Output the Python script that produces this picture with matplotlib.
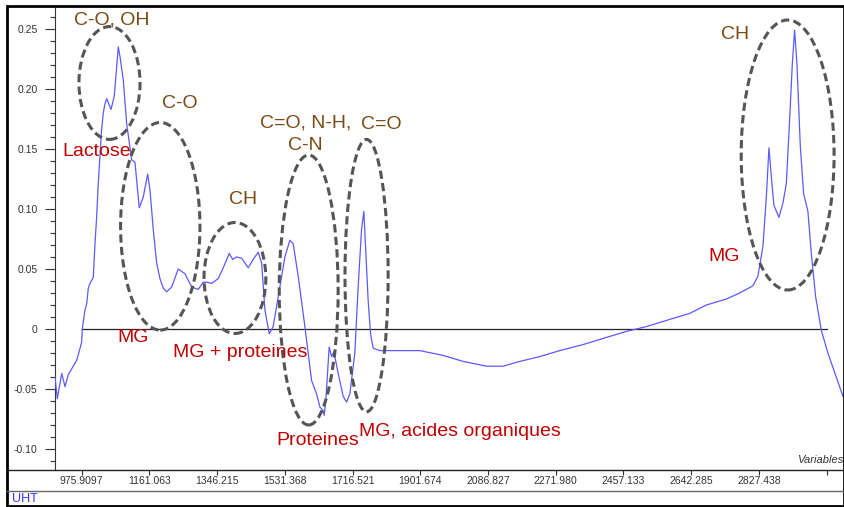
import matplotlib.pyplot as plt
from matplotlib.patches import Ellipse, Rectangle
from matplotlib.lines import Line2D
from matplotlib.ticker import MultipleLocator

# spectrum (wavenumber, absorbance)
wavenumber = [902.9, 909.2, 921.3, 930.3, 939.3, 962.3, 975.9, 977.5, 984.9, 989.6,
              993.9, 998.6, 1007.6, 1012.0, 1016.9, 1021.0, 1025.9, 1030.0, 1034.9, 1039.0,
              1044.2, 1056.0, 1065.0, 1075.9, 1080.6, 1089.6, 1098.9,
              1112.5, 1121.5, 1133.3, 1144.2, 1156.2, 1162.5, 1171.5, 1180.8, 1189.9, 1198.9,
              1208.2, 1221.8, 1239.9,
              1258.2, 1276.5, 1294.5, 1308.2, 1317.5, 1331.1, 1349.2, 1362.8, 1379.2, 1388.5,
              1399.4, 1413.1, 1431.1, 1444.8, 1458.5, 1467.8, 1476.8, 1488.5, 1499.4, 1513.1,
              1531.4, 1545.1, 1554.1, 1567.8, 1586.1, 1604.4, 1618.0, 1627.1, 1636.1, 1638.8,
              1643.4, 1652.5, 1659.0, 1665.3, 1677.1, 1690.7, 1700.0, 1709.0, 1722.7, 1731.7,
              1741.0, 1747.3, 1759.0, 1765.6, 1772.7, 1791.0, 1818.3, 1845.7, 1900.3, 1964.0,
              2018.6, 2082.6, 2128.0, 2173.6, 2228.2, 2282.9, 2346.5, 2410.5, 2465.1, 2519.8,
              2583.4, 2638.1, 2683.7, 2738.4, 2774.7, 2811.0, 2824.7, 2838.4, 2847.7, 2854.8,
              2861.3, 2868.4, 2882.1, 2893.0, 2902.3, 2911.3, 2918.7, 2925.0, 2931.3, 2940.6,
              2949.6, 2961.3, 2970.6, 2982.4, 2997.9, 3016.0, 3038.9, 3057.0]
absorbance = [-0.040, -0.058, -0.037, -0.048, -0.038, -0.026, -0.011, 0.000, 0.016, 0.021,
              0.034, 0.038, 0.043, 0.070, 0.094, 0.120, 0.144, 0.165, 0.180, 0.187,
              0.192, 0.183, 0.194, 0.235, 0.227, 0.2075, 0.171,
              0.141, 0.139, 0.101, 0.110, 0.129, 0.116, 0.083, 0.055, 0.042, 0.034,
              0.031, 0.035, 0.050,
              0.046, 0.035, 0.033, 0.039, 0.039, 0.038, 0.042, 0.051, 0.063, 0.058,
              0.060, 0.059, 0.051, 0.058, 0.064, 0.055, 0.016, -0.004, 0.002, 0.027,
              0.060, 0.074, 0.071, 0.044, 0.002, -0.043, -0.054, -0.065, -0.068, -0.072,
              -0.059, -0.015, -0.023, -0.019, -0.037, -0.056, -0.061, -0.054, -0.020, 0.035,
              0.083, 0.098, 0.024, -0.004, -0.016, -0.018, -0.018, -0.018, -0.018, -0.022,
              -0.027, -0.031, -0.031, -0.027, -0.023, -0.018, -0.013, -0.007, -0.002, 0.002,
              0.008, 0.013, 0.020, 0.025, 0.030, 0.036, 0.044, 0.069, 0.110, 0.151,
              0.127, 0.103, 0.093, 0.105, 0.121, 0.174, 0.221, 0.249, 0.221, 0.152,
              0.113, 0.098, 0.063, 0.027, -0.001, -0.020, -0.040, -0.056]

x_ticks = [975.9097, 1161.063, 1346.215, 1531.368, 1716.521, 1901.674, 2086.827,
           2271.980, 2457.133, 2642.285, 2827.438, 3012.590]
x_tick_labels = ["975.9097", "1161.063", "1346.215", "1531.368", "1716.521", "1901.674",
                 "2086.827", "2271.980", "2457.133", "2642.285", "2827.438", ""]
y_ticks = [-0.10, -0.05, 0.0, 0.05, 0.10, 0.15, 0.20, 0.25]
y_tick_labels = ["-0.10", "-0.05", "0", "0.05", "0.10", "0.15", "0.20", "0.25"]

# dashed ellipses: (centre x, centre y, width, height)
ellipses = [(1051.9, 0.205, 167, 0.094),
            (1190.7, 0.0856, 217, 0.173),
            (1394.8, 0.0425, 169, 0.0925),
            (1596.5, 0.0325, 161, 0.225),
            (1754.7, 0.0445, 118, 0.227),
            (2905.9, 0.145, 254, 0.225)]

# bond labels (brown) and compound labels (red)
bond_labels = [("C-O, OH", 1058.7, 0.2575), ("C-O", 1244.5, 0.1875), ("CH", 1416.7, 0.1075),
               ("C=O, N-H,", 1588.8, 0.1717), ("C-N", 1587.4, 0.1525),
               ("C=O", 1793.7, 0.1708), ("CH", 2761.0, 0.2458)]
compound_labels = [("Lactose", 1016.3, 0.1475), ("MG", 1116.1, -0.0067),
                   ("MG + proteines", 1408.5, -0.0192), ("Proteines", 1620.2, -0.0933),
                   ("MG, acides organiques", 2009.6, -0.085), ("MG", 2732.4, 0.0608)]

W, H = 845, 507
plt.rcParams["font.family"] = ["Liberation Sans", "DejaVu Sans"]

fig = plt.figure(figsize=(W / 100, H / 100), dpi=100)
fig.patch.set_facecolor("white")

ax = fig.add_axes([55 / W, 1 - 470 / H, (844 - 55) / W, (470 - 8) / H])
ax.set_xlim(902.9, 3060)
ax.set_ylim(-0.1175, 0.2675)

ax.plot(wavenumber, absorbance, color="#5a5aff", lw=0.9, zorder=3)
ax.plot([x_ticks[0], x_ticks[-1]], [0, 0], color="#222222", lw=0.9, zorder=2)

for cx, cy, w, h in ellipses:
    ax.add_patch(Ellipse((cx, cy), w, h, fill=False, ec="#555555", lw=2.2,
                         ls=(0, (2.7, 1.4)), zorder=4))

for txt, x, y in bond_labels:
    ax.text(x, y, txt, color="#7a4a14", fontsize=14, ha="center", va="center", zorder=5)
for txt, x, y in compound_labels:
    ax.text(x, y, txt, color="#c00000", fontsize=14, ha="center", va="center", zorder=5)

for s in ["top", "right"]:
    ax.spines[s].set_visible(False)
ax.spines["left"].set_color("#333333")
ax.spines["bottom"].set_visible(False)

ax.set_xticks(x_ticks)
ax.set_xticklabels(x_tick_labels)
ax.set_yticks(y_ticks)
ax.set_yticklabels(y_tick_labels)
ax.yaxis.set_minor_locator(MultipleLocator(0.01))
ax.tick_params(axis="y", which="major", direction="out", length=7.5, width=0.8,
               colors="#333333", labelsize=7.5, pad=5)
ax.tick_params(axis="y", which="minor", direction="out", length=3.8, width=0.8,
               colors="#333333")
ax.tick_params(axis="x", direction="out", length=3.5, width=0.8, colors="#333333",
               labelsize=7.5, pad=0.5)

# frame and bottom bands
fig.add_artist(Line2D([7 / W, 844 / W], [1 - 470 / H, 1 - 470 / H], color="#222222", lw=1))
fig.add_artist(Line2D([7 / W, 844 / W], [1 - 491 / H, 1 - 491 / H], color="#666666", lw=1))
fig.add_artist(Rectangle((7 / W, 1 - 506 / H), (844 - 7) / W, (506 - 6) / H,
                         transform=fig.transFigure, fill=False, ec="black", lw=2))
fig.text(843 / W, 1 - 460 / H, "Variables", fontsize=8, style="italic", color="#333333",
         ha="right", va="center")
fig.text(12 / W, 1 - 498.5 / H, "UHT", fontsize=9, color="#3333ff", ha="left", va="center")

fig.savefig("out.png", dpi=100)
